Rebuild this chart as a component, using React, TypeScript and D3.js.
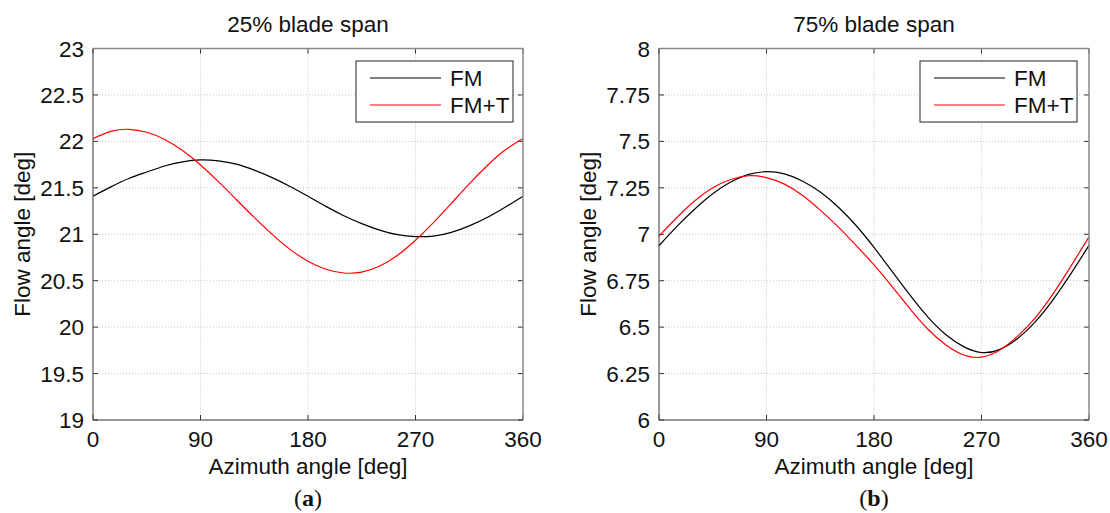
import React from "react";
import * as d3 from "d3";

const azimuth = [0, 15, 30, 45, 60, 75, 90, 105, 120, 135, 150, 165, 180, 195, 210, 225, 240, 255, 270, 285, 300, 315, 330, 345, 360];

const fm25 = [21.41, 21.51, 21.6, 21.67, 21.735, 21.78, 21.8, 21.79, 21.755, 21.69, 21.61, 21.515, 21.41, 21.3, 21.2, 21.115, 21.045, 20.995, 20.975, 20.98, 21.02, 21.09, 21.18, 21.29, 21.41];
const fmt25 = [22.03, 22.108, 22.13, 22.098, 22.021, 21.901, 21.746, 21.567, 21.374, 21.181, 20.999, 20.837, 20.71, 20.623, 20.583, 20.592, 20.658, 20.775, 20.936, 21.126, 21.333, 21.543, 21.738, 21.906, 22.03];

const fm75 = [6.938, 7.042, 7.136, 7.218, 7.281, 7.322, 7.337, 7.325, 7.287, 7.227, 7.147, 7.047, 6.929, 6.801, 6.673, 6.555, 6.46, 6.395, 6.363, 6.379, 6.437, 6.528, 6.648, 6.789, 6.94];
const fmt75 = [6.99, 7.09, 7.18, 7.25, 7.295, 7.315, 7.305, 7.27, 7.21, 7.13, 7.04, 6.94, 6.835, 6.72, 6.6, 6.49, 6.405, 6.35, 6.338, 6.375, 6.45, 6.55, 6.68, 6.83, 6.985];

const xTicks = [0, 90, 180, 270, 360];
const yTicks25 = [19, 19.5, 20, 20.5, 21, 21.5, 22, 22.5, 23];
const yTicks75 = [6, 6.25, 6.5, 6.75, 7, 7.25, 7.5, 7.75, 8];
const yTickLabels75 = ["6", "6.25", "6.5", "6.75", "7", "7.25", "7.5", "7.75", "8"];
const yTickLabels25 = ["19", "19.5", "20", "20.5", "21", "21.5", "22", "22.5", "23"];

const seriesNames = ["FM", "FM+T"];
const seriesColors = ["#000000", "#ff0000"];

const FONT = "'Liberation Sans', Arial, Helvetica, sans-serif";
const FS = 22.5;

type PanelProps = {
  left: number;
  right: number;
  top: number;
  bottom: number;
  yDomain: [number, number];
  yTicks: number[];
  yLabels: string[];
  series: number[][];
  title: string;
  tag: string;
  legendLeft: number;
};

function Panel(p: PanelProps) {
  const x = d3.scaleLinear().domain([0, 360]).range([p.left, p.right]);
  const y = d3.scaleLinear().domain(p.yDomain).range([p.bottom, p.top]);
  const line = d3
    .line<number>()
    .x((_, i) => x(azimuth[i]))
    .y((d) => y(d))
    .curve(d3.curveNatural);
  const cx = (p.left + p.right) / 2;
  const cy = (p.top + p.bottom) / 2;
  const tl = 5;
  const legTop = 61;
  const legW = 157;
  const legH = 61;
  return (
    <g>
      {xTicks.slice(1, -1).map((t) => (
        <line key={"gx" + t} x1={x(t)} x2={x(t)} y1={p.top} y2={p.bottom} stroke="#c4c4c4" strokeWidth={1} strokeDasharray="1,2" />
      ))}
      {p.yTicks.slice(1, -1).map((t) => (
        <line key={"gy" + t} x1={p.left} x2={p.right} y1={y(t)} y2={y(t)} stroke="#c4c4c4" strokeWidth={1} strokeDasharray="1,2" />
      ))}
      {xTicks.map((t) => (
        <g key={"tx" + t}>
          <line x1={x(t)} x2={x(t)} y1={p.bottom} y2={p.bottom - tl} stroke="#333" />
          <line x1={x(t)} x2={x(t)} y1={p.top} y2={p.top + tl} stroke="#333" />
          <text x={x(t)} y={p.bottom + 27} textAnchor="middle" fontFamily={FONT} fontSize={FS} fill="#111">
            {t}
          </text>
        </g>
      ))}
      {p.yTicks.map((t, i) => (
        <g key={"ty" + t}>
          <line x1={p.left} x2={p.left + tl} y1={y(t)} y2={y(t)} stroke="#333" />
          <line x1={p.right} x2={p.right - tl} y1={y(t)} y2={y(t)} stroke="#333" />
          <text x={p.left - 9} y={y(t) + 8} textAnchor="end" fontFamily={FONT} fontSize={FS} fill="#111">
            {p.yLabels[i]}
          </text>
        </g>
      ))}
      {p.series.map((s, i) => (
        <path key={"s" + i} d={line(s) || ""} fill="none" stroke={seriesColors[i]} strokeWidth={1.2} />
      ))}
      <line x1={p.left} x2={p.right} y1={p.top} y2={p.top} stroke="#888" strokeWidth={1.5} />
      <line x1={p.right} x2={p.right} y1={p.top} y2={p.bottom} stroke="#888" strokeWidth={1.5} />
      <line x1={p.left} x2={p.right} y1={p.bottom} y2={p.bottom} stroke="#333" strokeWidth={1.2} />
      <line x1={p.left} x2={p.left} y1={p.top} y2={p.bottom} stroke="#555" strokeWidth={1.2} />
      <rect x={p.legendLeft} y={legTop} width={legW} height={legH} fill="#fff" stroke="#222" strokeWidth={1} />
      {seriesNames.map((n, i) => (
        <g key={"lg" + n}>
          <line x1={p.legendLeft + 14} x2={p.legendLeft + 85} y1={legTop + 17 + i * 27} y2={legTop + 17 + i * 27} stroke={seriesColors[i]} strokeWidth={1.2} />
          <text x={p.legendLeft + 94} y={legTop + 17 + i * 27 + 8} fontFamily={FONT} fontSize={FS} fill="#111">
            {n}
          </text>
        </g>
      ))}
      <text x={cx} y={32} textAnchor="middle" fontFamily={FONT} fontSize={FS} fill="#111">
        {p.title}
      </text>
      <text x={cx} y={474} textAnchor="middle" fontFamily={FONT} fontSize={FS} fill="#111">
        Azimuth angle [deg]
      </text>
      <text
        transform={`translate(${p.left - 63},${cy}) rotate(-90)`}
        textAnchor="middle"
        fontFamily={FONT}
        fontSize={FS}
        fill="#111"
      >
        Flow angle [deg]
      </text>
      <text x={cx} y={506} textAnchor="middle" fontFamily="'Liberation Serif', 'DejaVu Serif', serif" fontSize={24} fill="#111">
        (<tspan fontWeight="bold">{p.tag}</tspan>)
      </text>
    </g>
  );
}

export default function App() {
  return (
    <svg width={1110} height={513} style={{ position: "absolute", left: 0, top: 0, background: "#fff" }}>
      <rect width={1110} height={513} fill="#fff" />
      <Panel
        left={93}
        right={523}
        top={48.5}
        bottom={420}
        yDomain={[19, 23]}
        yTicks={yTicks25}
        yLabels={yTickLabels25}
        series={[fm25, fmt25]}
        title="25% blade span"
        tag="a"
        legendLeft={356}
      />
      <Panel
        left={659}
        right={1089}
        top={48.5}
        bottom={420}
        yDomain={[6, 8]}
        yTicks={yTicks75}
        yLabels={yTickLabels75}
        series={[fm75, fmt75]}
        title="75% blade span"
        tag="b"
        legendLeft={920}
      />
    </svg>
  );
}
